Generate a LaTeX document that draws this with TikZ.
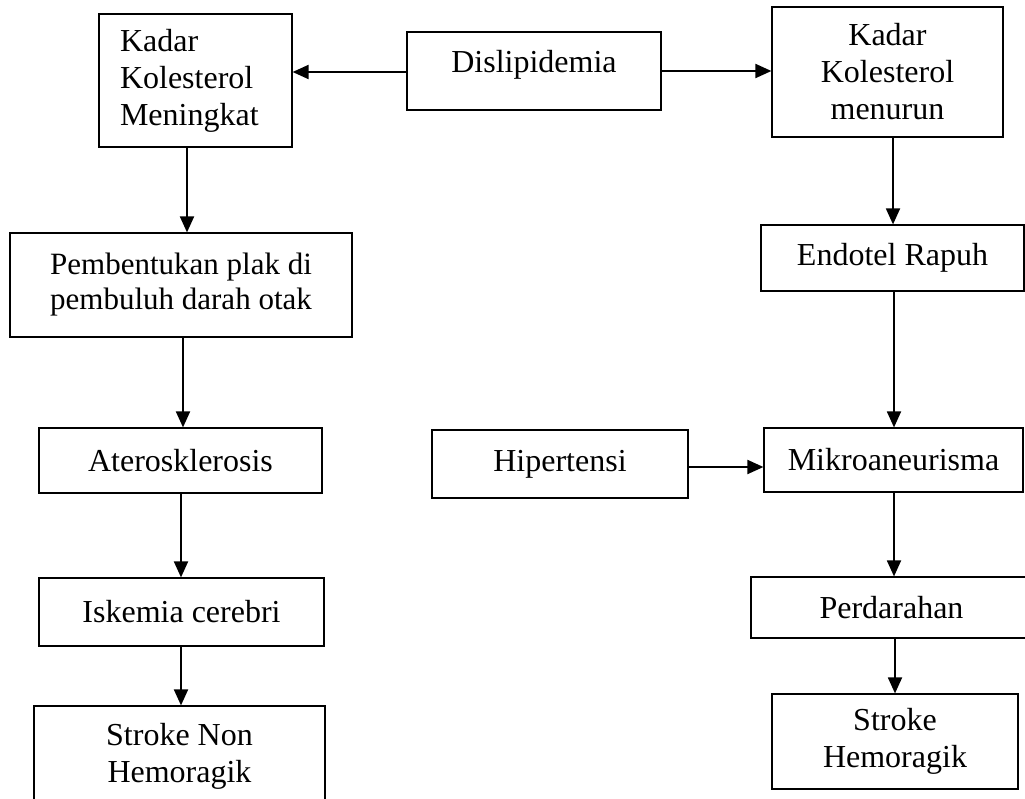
\documentclass[tikz,border=0pt]{standalone}
\usepackage{fontspec}
\setmainfont{Liberation Serif}
\usetikzlibrary{arrows.meta,calc}
\begin{document}
\begin{tikzpicture}[x=1pt,y=-1pt,
  box/.style={draw, line width=1.2pt, inner sep=0pt, align=center,
    font=\fontsize{32}{37}\selectfont},
  arr/.style={-{Triangle[length=16pt,width=14pt]}, line width=1.9pt}]
\clip (0,0) rectangle (1025,798);
\fill[white] (0,0) rectangle (1025,798);
% left column
\node[box, align=left, text width=151pt, minimum width=193pt, minimum height=133pt] (km) at (195.5,80.5) {Kadar\\Kolesterol\\Meningkat};
\node[box, minimum width=254pt, minimum height=78pt, text depth=19pt] (dl) at (534,71) {Dislipidemia};
\node[box, minimum width=231pt, minimum height=130pt] (kn) at (887.5,72) {Kadar\\Kolesterol\\menurun};
\node[box, font=\fontsize{31}{35}\selectfont, minimum width=342pt, minimum height=104pt] (pb) at (181,285) {Pembentukan plak di\\pembuluh darah otak};
\node[box, minimum width=283pt, minimum height=65pt] (at) at (180.5,460.5) {Aterosklerosis};
\node[box, minimum width=285pt, minimum height=68pt] (is) at (181.5,612) {Iskemia cerebri};
\node[box, minimum width=291pt, minimum height=100pt] (snh) at (179.5,756) {Stroke Non\\Hemoragik};
% right column
\node[box, minimum width=263pt, minimum height=66pt] (er) at (892.5,258) {Endotel Rapuh};
\node[box, minimum width=256pt, minimum height=68pt] (ht) at (560,464) {Hipertensi};
\node[box, minimum width=259pt, minimum height=64pt] (mk) at (893.5,460) {Mikroaneurisma};
\node[box, minimum width=281pt, minimum height=61pt] (pd) at (891.5,607.5) {Perdarahan};
\node[box, minimum width=246pt, minimum height=95pt] (sh) at (895,741.5) {Stroke\\Hemoragik};
% connectors
\draw[arr] ([yshift=-1pt]dl.west) -- ([yshift=-1pt]dl.west -| km.east);
\draw[arr] (dl.east) -- (dl.east -| kn.west);
\draw[arr] ([xshift=-8.5pt]km.south) -- ([xshift=-8.5pt]km.south |- pb.north);
\draw[arr] ([xshift=2pt]pb.south) -- ([xshift=2pt]pb.south |- at.north);
\draw[arr] ([xshift=0.5pt]at.south) -- ([xshift=0.5pt]at.south |- is.north);
\draw[arr] ([xshift=-0.5pt]is.south) -- ([xshift=-0.5pt]is.south |- snh.north);
\draw[arr] ([xshift=0.5pt]er.north |- kn.south) -- ([xshift=0.5pt]er.north);
\draw[arr] ([xshift=1.5pt]er.south) -- ([xshift=1.5pt]er.south |- mk.north);
\draw[arr] ([yshift=-3pt]ht.east) -- ([yshift=-3pt]ht.east -| mk.west);
\draw[arr] ([xshift=0.5pt]mk.south) -- ([xshift=0.5pt]mk.south |- pd.north);
\draw[arr] (sh.north |- pd.south) -- (sh.north);
\end{tikzpicture}
\end{document}
